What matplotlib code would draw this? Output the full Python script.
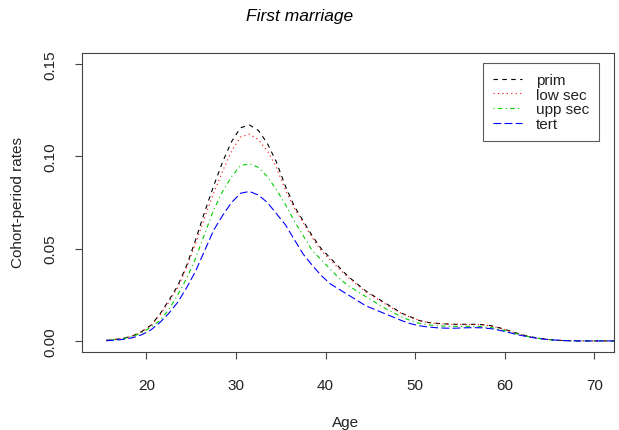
import numpy as np
import matplotlib
matplotlib.use("Agg")
import matplotlib.pyplot as plt

plt.rcParams['font.family'] = ['Liberation Sans', 'DejaVu Sans']

# ages (mid-year) and rates
ages = [15.5, 16.5, 17.5, 18.5, 19.5, 20.5, 21.5, 22.5, 23.5, 24.5,
        25.5, 26.5, 27.5, 28.5, 29.5, 30.5, 31.5, 32.5, 33.5, 34.5,
        35.5, 36.5, 37.5, 38.5, 39.5, 40.5, 41.5, 42.5, 43.5, 44.5,
        45.5, 46.5, 47.5, 48.5, 49.5, 50.5, 51.5, 52.5, 53.5, 54.5,
        55.5, 56.5, 57.5, 58.5, 59.5, 60.5, 61.5, 62.5, 63.5, 64.5,
        65.5, 66.5, 67.5, 68.5, 69.5, 70.5, 71.5, 72.5]

prim = [0.0003, 0.0008, 0.0015, 0.0028, 0.0052, 0.0085, 0.0145, 0.022, 0.030, 0.041,
        0.055, 0.070, 0.084, 0.097, 0.108, 0.1155, 0.117, 0.114, 0.107, 0.097,
        0.084, 0.073, 0.065, 0.057, 0.050, 0.045, 0.040, 0.035, 0.031, 0.027,
        0.024, 0.021, 0.018, 0.015, 0.013, 0.011, 0.010, 0.0095, 0.0092, 0.0090,
        0.0090, 0.0090, 0.0088, 0.0082, 0.0070, 0.0055, 0.0040, 0.0027, 0.0017, 0.0010,
        0.0005, 0.0002, 0.0001, 0.0, 0.0, 0.0, 0.0, 0.0]

low_sec = [0.0003, 0.0008, 0.0015, 0.0028, 0.0050, 0.0083, 0.014, 0.021, 0.029, 0.040,
           0.053, 0.067, 0.080, 0.092, 0.103, 0.1105, 0.112, 0.109, 0.103, 0.094,
           0.082, 0.072, 0.064, 0.056, 0.049, 0.044, 0.039, 0.0345, 0.0305, 0.0265,
           0.0235, 0.0205, 0.0175, 0.0148, 0.0128, 0.011, 0.0099, 0.0094, 0.0091, 0.0089,
           0.0089, 0.0089, 0.0087, 0.0081, 0.0069, 0.0054, 0.0039, 0.0027, 0.0017, 0.0010,
           0.0005, 0.0002, 0.0001, 0.0, 0.0, 0.0, 0.0, 0.0]

upp_sec = [0.0002, 0.0007, 0.0013, 0.0025, 0.0045, 0.0075, 0.011, 0.017, 0.025, 0.034,
           0.045, 0.058, 0.071, 0.081, 0.089, 0.095, 0.096, 0.094, 0.089, 0.082,
           0.074, 0.065, 0.057, 0.049, 0.044, 0.039, 0.034, 0.030, 0.027, 0.024,
           0.021, 0.018, 0.0155, 0.013, 0.011, 0.0095, 0.0087, 0.0082, 0.0080, 0.0079,
           0.0079, 0.0079, 0.0077, 0.0072, 0.0062, 0.0049, 0.0036, 0.0025, 0.0016, 0.0009,
           0.0005, 0.0002, 0.0001, 0.0, 0.0, 0.0, 0.0, 0.0]

tert = [0.0001, 0.0004, 0.0009, 0.0018, 0.0034, 0.0060, 0.0100, 0.015, 0.021, 0.029,
        0.038, 0.049, 0.060, 0.068, 0.075, 0.080, 0.081, 0.079, 0.075, 0.069,
        0.063, 0.055, 0.047, 0.041, 0.0355, 0.031, 0.028, 0.025, 0.022, 0.019,
        0.017, 0.015, 0.013, 0.011, 0.0093, 0.0082, 0.0075, 0.0071, 0.0069, 0.0069,
        0.0071, 0.0072, 0.0071, 0.0066, 0.0057, 0.0045, 0.0033, 0.0023, 0.0015, 0.0009,
        0.0005, 0.0002, 0.0001, 0.0, 0.0, 0.0, 0.0, 0.0]

labels = ['prim', 'low sec', 'upp sec', 'tert']
xticks = [20, 30, 40, 50, 60, 70]
yticks = [0.00, 0.05, 0.10, 0.15]

fig = plt.figure(figsize=(6.19, 4.31), dpi=100)
ax = fig.add_axes([82 / 619, 1 - 353 / 431, (614 - 82) / 619, (353 - 54) / 431])

lw = 0.8
ax.plot(ages, prim, color='black', lw=lw, linestyle=(0, (4, 4)), label=labels[0])
ax.plot(ages, low_sec, color='#FF0000', lw=lw, linestyle=(0, (1, 3)), label=labels[1])
ax.plot(ages, upp_sec, color='#00CD00', lw=lw, linestyle=(0, (1, 3, 4, 3)), label=labels[2])
ax.plot(ages, tert, color='#0000FF', lw=lw, linestyle=(0, (7, 3)), label=labels[3])

ax.set_xlim(12.8, 72.2)
ax.set_ylim(-0.006, 0.156)
ax.set_xticks(xticks)
ax.set_xticklabels([str(t) for t in xticks])
ax.set_yticks(yticks)
ax.set_yticklabels(['%.2f' % t for t in yticks], rotation=90, va='center')

txtc = '#222222'
ax.tick_params(axis='both', direction='out', length=5, width=0.8, color='#444444',
               labelsize=11, labelcolor=txtc)
ax.tick_params(axis='x', pad=13.5)
ax.tick_params(axis='y', pad=13)
for s in ax.spines.values():
    s.set_color('#444444')
    s.set_linewidth(0.8)

fig.text(346 / 619, 1 - 423 / 431, 'Age', ha='center', va='center', fontsize=11, color=txtc)
fig.text(18 / 619, 1 - 202 / 431, 'Cohort-period rates', ha='center', va='center',
         rotation=90, fontsize=11, color=txtc)
fig.text(300 / 619, 1 - 17 / 431, 'First marriage', ha='center', va='center',
         fontsize=12.5, style='italic', color='black')

leg = ax.legend(loc='upper left', bbox_to_anchor=(483 / 619, 1 - 64 / 431),
                bbox_transform=fig.transFigure, borderaxespad=0, fancybox=False,
                frameon=True, fontsize=11, handlelength=1.9, handletextpad=0.9,
                labelspacing=0.05, borderpad=0.65)
leg.get_frame().set_edgecolor('#333333')
leg.get_frame().set_linewidth(0.8)
for t in leg.get_texts():
    t.set_color(txtc)

fig.savefig('out.png', dpi=100)
